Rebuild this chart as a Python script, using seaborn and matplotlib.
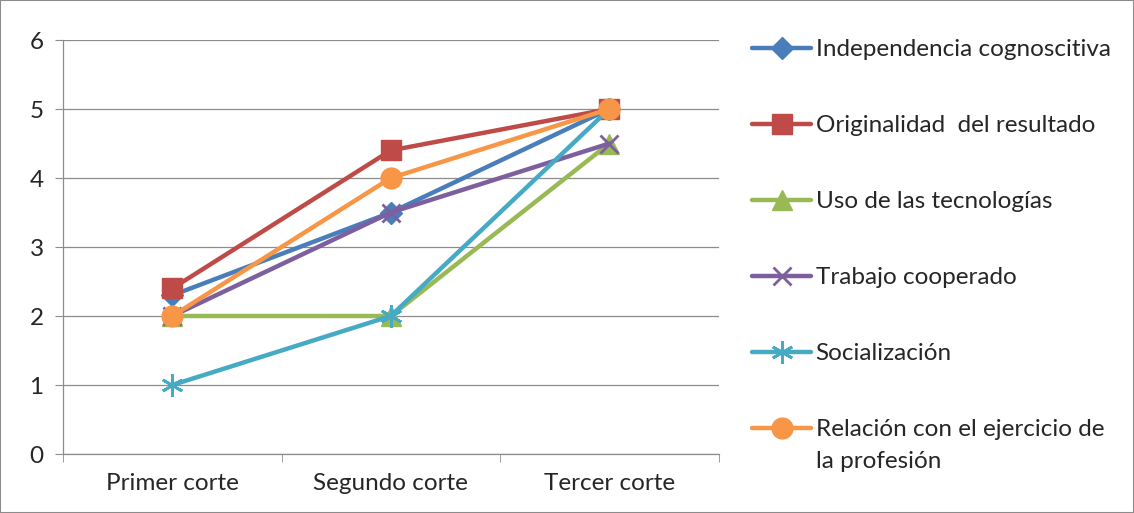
import matplotlib
matplotlib.use("Agg")
import matplotlib.pyplot as plt
import numpy as np
import pandas as pd
import seaborn as sns

cortes = ["Primer corte", "Segundo corte", "Tercer corte"]
independencia = [2.3, 3.5, 5.0]
originalidad = [2.4, 4.4, 5.0]
tecnologias = [2.0, 2.0, 4.5]
cooperado = [2.0, 3.5, 4.5]
socializacion = [1.0, 2.0, 5.0]
profesion = [2.0, 4.0, 5.0]

series = [
    ("Independencia cognoscitiva", independencia, "#4A7EBB", "D", 11),
    ("Originalidad  del resultado", originalidad, "#BE4B48", "s", 14),
    ("Uso de las tecnologías", tecnologias, "#98B954", "^", 14),
    ("Trabajo cooperado", cooperado, "#7D5FA0", "x", 13),
    ("Socialización", socializacion, "#46AAC5", (6, 2, 0), 16),
    ("Relación con el ejercicio de", profesion, "#F79646", "o", 15),
]
label_extra = "la profesión"

FS = 17.5
sns.set_style("white")
plt.rcParams["font.family"] = ["Lato", "DejaVu Sans"]

fig = plt.figure(figsize=(11.34, 5.13), dpi=100)
ax = fig.add_axes([0.0556, 0.115, 0.578, 0.807])

for name, vals, color, marker, ms in series:
    df = pd.DataFrame({"x": np.arange(len(cortes)), "y": vals})
    sns.lineplot(data=df, x="x", y="y", ax=ax, color=color, linewidth=3.2,
                 marker=marker, markersize=ms, markeredgecolor=color,
                 markeredgewidth=2 if marker in ("x", (6, 2, 0)) else 1,
                 label=name)

ax.set_xlim(-0.5, 2.5)
ax.set_ylim(0, 6)
ax.set_yticks(range(0, 7))
ax.set_xticks(range(len(cortes)))
ax.set_xticklabels(cortes)
ax.set_xticks([-0.5, 0.5, 1.5, 2.5], minor=True)
ax.set_xlabel("")
ax.set_ylabel("")
ax.grid(axis="y", color="#8C8C8C", linewidth=0.9)
ax.set_axisbelow(True)
for s in ["top", "right"]:
    ax.spines[s].set_visible(False)
for s in ["left", "bottom"]:
    ax.spines[s].set_color("#8C8C8C")
    ax.spines[s].set_linewidth(0.9)
ax.tick_params(axis="y", which="major", left=True, length=6, color="#8C8C8C",
               labelsize=FS, pad=8)
ax.tick_params(axis="x", which="major", bottom=False, labelsize=FS, pad=10)
ax.tick_params(axis="x", which="minor", bottom=True, length=6, color="#8C8C8C")

handles, labels = ax.get_legend_handles_labels()
ax.get_legend().remove()
leg = fig.legend(handles, labels, loc="upper left", bbox_to_anchor=(0.655, 0.942),
                 frameon=False, fontsize=FS, labelspacing=2.26, handlelength=2.4,
                 handletextpad=0.2, borderaxespad=0)

# second line of the last legend label, aligned under its first line
fig.canvas.draw()
bb = leg.get_texts()[-1].get_window_extent().transformed(fig.transFigure.inverted())
fig.text(bb.x0, bb.y0 - 0.022, label_extra, fontsize=FS, ha="left", va="top")

fig.patches.append(plt.Rectangle((0, 0), 1, 1, transform=fig.transFigure,
                                 fill=False, edgecolor="#8C8C8C", linewidth=1.5))

fig.savefig("out.png", dpi=100)
